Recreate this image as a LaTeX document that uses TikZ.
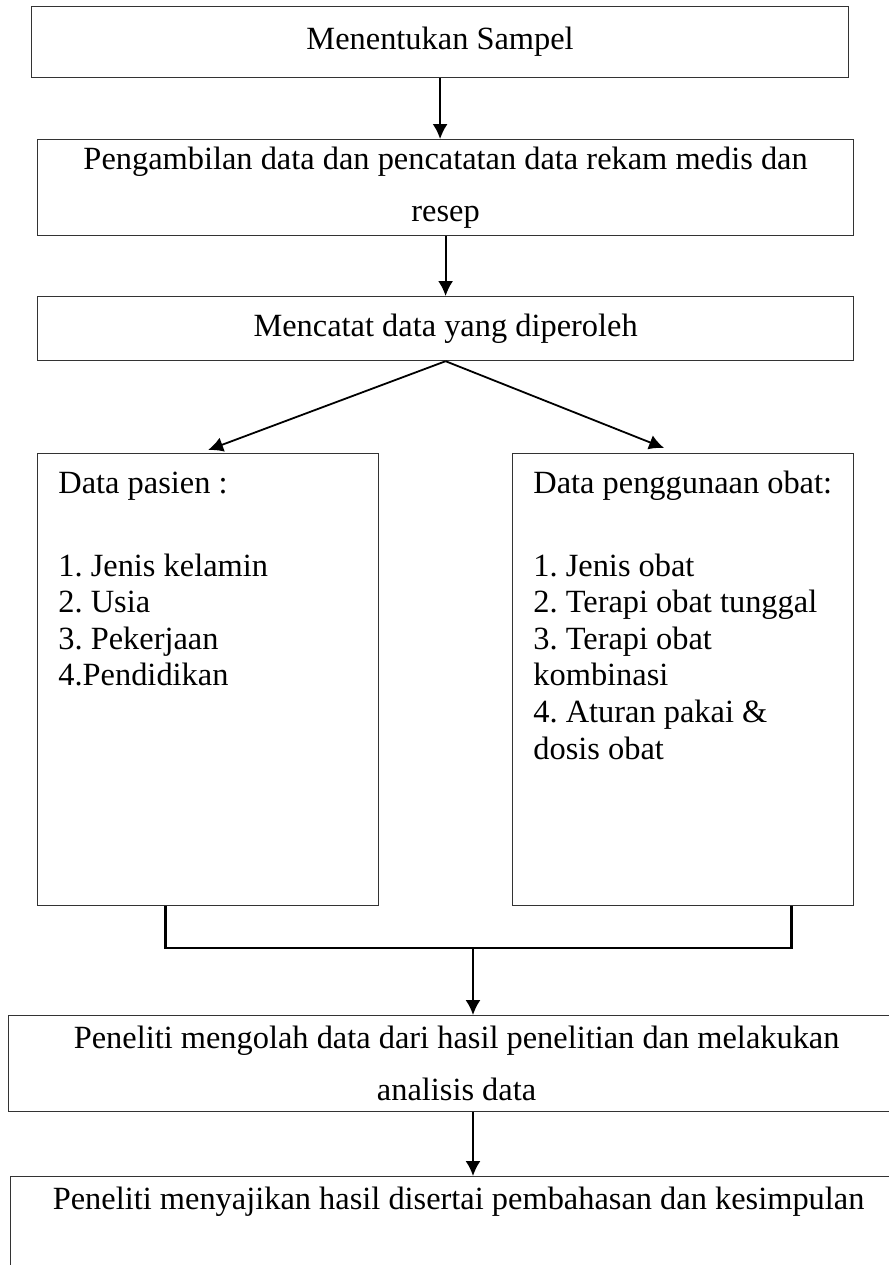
\documentclass[tikz,border=0pt]{standalone}
\usepackage{fontspec}
\setmainfont{Liberation Serif}
\usetikzlibrary{arrows.meta}
\frenchspacing

\begin{document}
\begin{tikzpicture}[x=0.5pt, y=-0.5pt,
  kotak/.style={draw=black!80, line width=0.6pt, inner sep=0pt, anchor=north west, align=center, font={\fontsize{16.2}{26}\selectfont}},
  isi/.style={anchor=north west, inner sep=0pt, align=left, font={\fontsize{16.2}{18.3}\selectfont}},
  panah/.style={-{Latex[length=7.5pt, width=7.5pt]}, line width=0.9pt},
  kurung/.style={line width=1.3pt}]

  \useasboundingbox (0,0) rectangle (889,1265);
  \clip (0,0) rectangle (889,1265);

  % First steps
  \node[kotak, minimum width=408.5pt, minimum height=35.5pt] (sampel) at (31,6) {Menentukan Sampel};
  \node[kotak, minimum width=408pt, minimum height=48pt] (ambil) at (37,139) {Pengambilan data dan pencatatan data rekam medis dan\\resep};
  \node[kotak, minimum width=408pt, minimum height=32pt] (catat) at (37,296) {Mencatat data yang diperoleh};
  \draw[panah] (sampel.south) -- (sampel.south |- ambil.north);
  \draw[panah] (ambil.south) -- (catat.north);

  % Patient data and drug data
  \node[kotak, minimum width=170.5pt, minimum height=226pt] (pasien) at (37,453) {};
  \node[kotak, minimum width=170.5pt, minimum height=226pt] (obat) at (512,453) {};
  \node[isi] (pasienisi) at ([shift={(21,14.4)}]pasien.north west) {\strut Data pasien :\\[23pt]1. Jenis kelamin\\2. Usia\\3. Pekerjaan\\4.Pendidikan};
  \node[isi] (obatisi) at ([shift={(21,14.4)}]obat.north west) {\strut Data penggunaan obat:\\[23pt]1. Jenis obat\\2. Terapi obat tunggal\\3. Terapi obat\\kombinasi\\4. Aturan pakai \&\\dosis obat};
  \draw[panah] (catat.south) -- ([yshift=1.5pt]pasien.north);
  \draw[panah] (catat.south) -- ([xshift=-9.5pt, yshift=2.5pt]obat.north);

  % Join both boxes
  \coordinate (kiri) at ([xshift=-21.25pt]pasien.south);
  \coordinate (kanan) at ([xshift=54.25pt]obat.south);
  \coordinate (gabung) at (473,948);
  \draw[kurung] (kiri) |- (gabung) -| (kanan);

  % Last steps
  \node[kotak, minimum width=448pt, minimum height=48pt] (olah) at (8,1015) {Peneliti mengolah data dari hasil penelitian dan melakukan\\analisis data};
  \node[kotak, minimum width=448pt, minimum height=48pt] (saji) at (10,1176) {Peneliti menyajikan hasil disertai pembahasan dan kesimpulan\\\mbox{}};
  \draw[panah] (gabung) -- (gabung |- olah.north);
  \draw[panah] (gabung |- olah.south) -- (gabung |- saji.north);

\end{tikzpicture}
\end{document}
